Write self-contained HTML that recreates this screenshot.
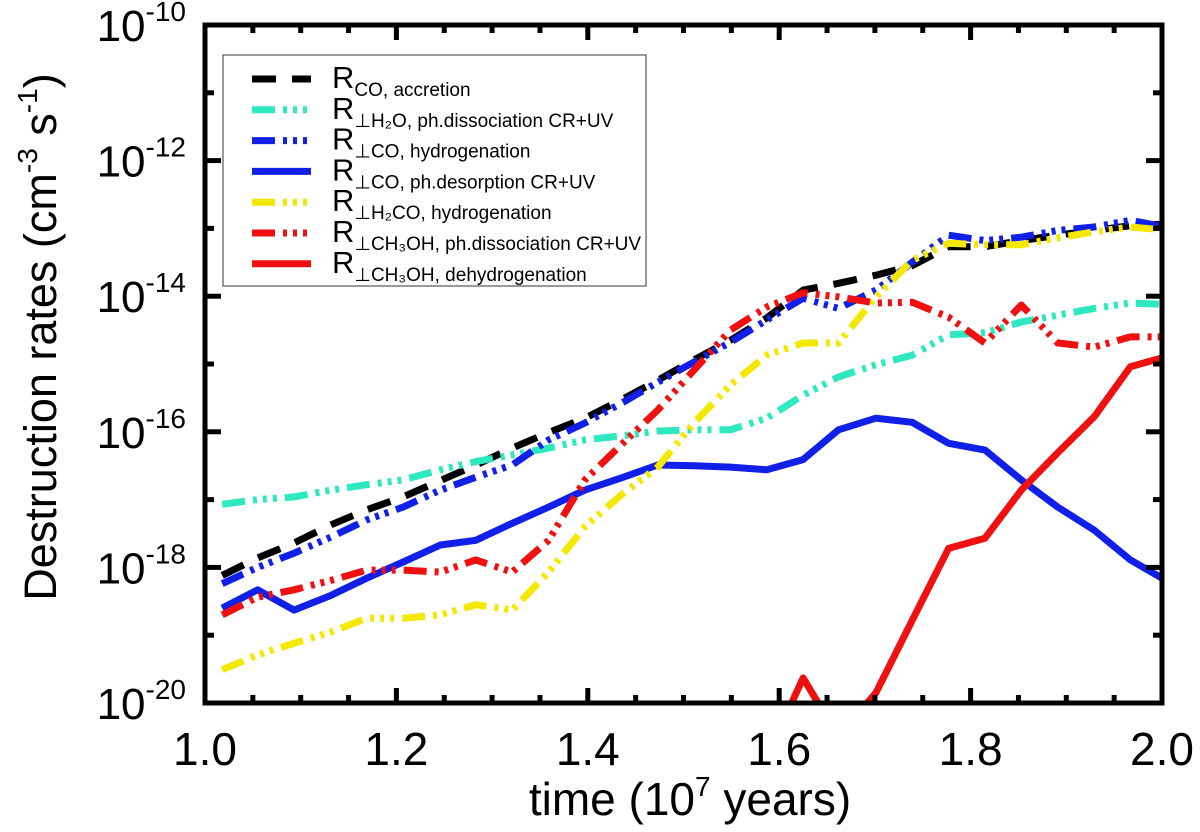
<!DOCTYPE html>
<html><head><meta charset="utf-8"><style>
body{margin:0;background:#fff}
svg{display:block;font-family:"Liberation Sans",Arial,sans-serif}
</style></head><body>
<svg id="c" width="1200" height="832" viewBox="0 0 1200 832">
<defs><clipPath id="clip"><rect x="205" y="25" width="957" height="678"/></clipPath></defs>
<g id="series" clip-path="url(#clip)"></g>
<g id="axes"></g>
<g id="legend"></g>
<text x="690" y="815" text-anchor="middle" font-size="46">time (10<tspan font-size="28" dy="-19">7</tspan><tspan dy="19"> years)</tspan></text>
<text transform="translate(56,337) rotate(-90)" text-anchor="middle" font-size="45">Destruction rates (cm<tspan font-size="28" dy="-19">-3</tspan><tspan dy="19"> s</tspan><tspan font-size="28" dy="-19">-1</tspan><tspan dy="19">)</tspan></text>
</svg>
<script>
const times=[1.018,1.055,1.093,1.132,1.169,1.207,1.246,1.283,1.321,1.359,1.397,1.435,1.473,1.511,1.549,1.587,1.625,1.662,1.701,1.739,1.777,1.815,1.853,1.891,1.929,1.967,2.0];
const logCOacc=[-18.12,-17.86,-17.64,-17.37,-17.15,-16.96,-16.72,-16.49,-16.24,-16.01,-15.80,-15.53,-15.24,-14.94,-14.65,-14.32,-13.91,-13.81,-13.69,-13.55,-13.27,-13.27,-13.18,-13.10,-13.03,-12.96,-12.94];
const logH2Ophd=[-17.07,-17.0,-16.96,-16.86,-16.78,-16.71,-16.56,-16.44,-16.34,-16.24,-16.12,-16.06,-15.99,-15.97,-15.97,-15.80,-15.46,-15.19,-15.01,-14.87,-14.57,-14.54,-14.38,-14.28,-14.18,-14.10,-14.12];
const logCOhyd=[-18.24,-18.0,-17.79,-17.55,-17.30,-17.11,-16.86,-16.67,-16.49,-16.12,-15.87,-15.58,-15.27,-14.97,-14.68,-14.35,-14.03,-14.18,-13.91,-13.50,-13.10,-13.18,-13.13,-13.03,-12.98,-12.88,-12.97];
const logCOdes=[-18.60,-18.33,-18.63,-18.41,-18.16,-17.92,-17.67,-17.60,-17.35,-17.11,-16.86,-16.68,-16.49,-16.50,-16.52,-16.56,-16.41,-15.97,-15.80,-15.86,-16.17,-16.27,-16.71,-17.11,-17.45,-17.89,-18.16];
const logH2COhyd=[-19.51,-19.29,-19.12,-18.95,-18.75,-18.75,-18.70,-18.55,-18.63,-18.07,-17.40,-16.93,-16.52,-15.87,-15.31,-14.87,-14.69,-14.69,-14.01,-13.47,-13.22,-13.24,-13.24,-13.14,-13.05,-12.98,-13.02];
const logCH3OHphd=[-18.70,-18.44,-18.33,-18.19,-18.04,-18.04,-18.07,-17.89,-18.07,-17.60,-16.71,-16.19,-15.68,-15.09,-14.50,-14.16,-13.95,-14.01,-14.10,-14.09,-14.31,-14.69,-14.13,-14.69,-14.75,-14.60,-14.60];
const logCH3OHdehyd=[null,null,null,null,null,null,null,null,null,null,null,null,null,null,null,-20.8,-19.63,-20.5,-19.85,-18.78,-17.72,-17.57,-16.86,-16.31,-15.78,-15.04,-14.91];
const xTicks=["1.0","1.2","1.4","1.6","1.8","2.0"];
const yTicks=[-10,-12,-14,-16,-18,-20];

const X0=205,X1=1162,Y0=25,Y1=703;
const xs=t=>X0+(t-1)/(1)*(X1-X0);
const ys=l=>Y0+(-10-l)/10*(Y1-Y0);
const NS="http://www.w3.org/2000/svg";
function mk(tag,attrs,parent){const e=document.createElementNS(NS,tag);for(const k in attrs)e.setAttribute(k,attrs[k]);parent.appendChild(e);return e;}
const DDD="23 8 4 6 4 6 4 8", DASH="24 16";
const series=[
 {d:logCOacc,c:"#000",dash:DASH,name:"series-co-accretion",lab:["R","CO, accretion"]},
 {d:logH2Ophd,c:"#2ee8c0",dash:DDD,name:"series-h2o-photodissociation",lab:["R","⊥H₂O, ph.dissociation CR+UV"]},
 {d:logCOhyd,c:"#1020e8",dash:DDD,name:"series-co-hydrogenation",lab:["R","⊥CO, hydrogenation"]},
 {d:logCOdes,c:"#1020e8",dash:"",name:"series-co-photodesorption",lab:["R","⊥CO, ph.desorption CR+UV"]},
 {d:logH2COhyd,c:"#f5e800",dash:DDD,name:"series-h2co-hydrogenation",lab:["R","⊥H₂CO, hydrogenation"]},
 {d:logCH3OHphd,c:"#f01010",dash:DDD,name:"series-ch3oh-photodissociation",lab:["R","⊥CH₃OH, ph.dissociation CR+UV"]},
 {d:logCH3OHdehyd,c:"#f01010",dash:"",name:"series-ch3oh-dehydrogenation",lab:["R","⊥CH₃OH, dehydrogenation"]}
];
const sg=document.getElementById('series');
series.forEach(s=>{
  let pts=[];s.d.forEach((v,i)=>{if(v!==null)pts.push(xs(times[i]).toFixed(1)+","+ys(v).toFixed(1));});
  const p=mk('polyline',{points:pts.join(' '),fill:'none',stroke:s.c,'stroke-width':7,'stroke-linejoin':'round'},sg);
  if(s.dash)p.setAttribute('stroke-dasharray',s.dash);
  
  
});
const ag=document.getElementById('axes');
const fr=mk('rect',{x:X0,y:Y0,width:X1-X0,height:Y1-Y0,fill:'none',stroke:'#000','stroke-width':5},ag);


for(let t=1.0;t<=2.0001;t+=0.05){
  const major=Math.abs(t*5-Math.round(t*5))<1e-6;const L=major?15:8;const x=xs(t);
  mk('line',{x1:x,x2:x,y1:Y1,y2:Y1-L,stroke:'#000','stroke-width':5},ag);
  mk('line',{x1:x,x2:x,y1:Y0,y2:Y0+L,stroke:'#000','stroke-width':5},ag);
}
xTicks.forEach(s=>{const t=mk('text',{x:xs(parseFloat(s)),y:765,'text-anchor':'middle','font-size':46},ag);t.textContent=s;
  
  });
for(let e=-10;e>=-20;e--){const major=e%2===0;const L=major?16:9;const y=ys(e);
  mk('line',{x1:X0,x2:X0+L,y1:y,y2:y,stroke:'#000','stroke-width':5},ag);
  mk('line',{x1:X1,x2:X1-L,y1:y,y2:y,stroke:'#000','stroke-width':5},ag);}
yTicks.forEach(e=>{const t=mk('text',{x:186,y:ys(e)+16,'text-anchor':'end','font-size':44},ag);
  t.innerHTML='10<tspan font-size="28" dy="-20">'+e+'</tspan>';
  
  });
const lg=document.getElementById('legend');
const box=mk('rect',{x:223,y:55,width:423,height:231,fill:'#fff',stroke:'#555','stroke-width':1.2},lg);


series.forEach((s,i)=>{const y=79+i*30.8;
  const g=mk('g',{},lg);
  
  
  const l=mk('line',{x1:252,x2:311,y1:y,y2:y,stroke:s.c,'stroke-width':7},g);
  if(s.dash)l.setAttribute('stroke-dasharray',s.dash);
  const t=mk('text',{x:332,y:y+9,'font-size':31},g);
  t.innerHTML=s.lab[0]+'<tspan font-size="19" dy="8">'+s.lab[1]+'</tspan>';
});
</script>
</body></html>
